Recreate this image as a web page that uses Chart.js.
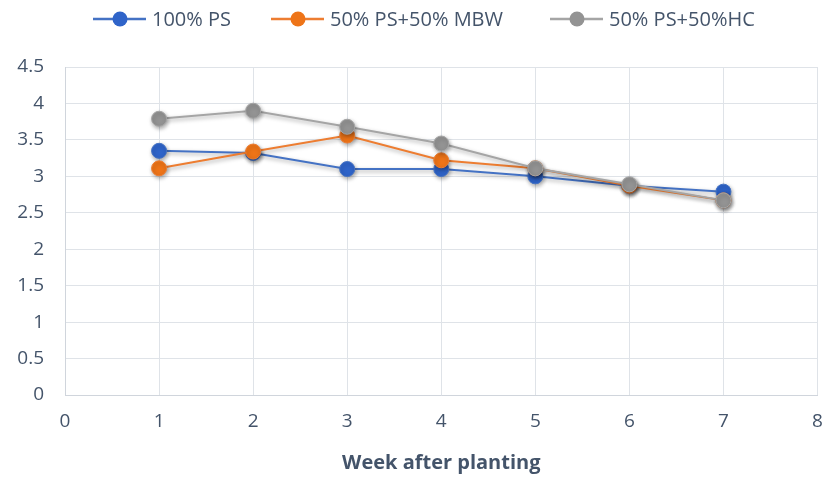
<!DOCTYPE html>
<html>
<head>
<meta charset="utf-8">
<script src="https://cdn.jsdelivr.net/npm/chart.js@4.4.1/dist/chart.umd.min.js"></script>
<style>
  html, body { margin: 0; padding: 0; background: #ffffff; }
  #wrap { width: 826px; height: 479px; }
</style>
</head>
<body>
<div id="wrap"><canvas id="chart" width="826" height="479"></canvas></div>
<script>
// Weeks after planting
const weeks = [1, 2, 3, 4, 5, 6, 7];
// Series values per week
const ps100 = [3.35, 3.32, 3.10, 3.10, 3.00, 2.87, 2.79];
const psMbw = [3.11, 3.34, 3.56, 3.22, 3.11, 2.87, 2.67];
const psHc  = [3.79, 3.90, 3.68, 3.45, 3.11, 2.89, 2.67];
const seriesNames = ['100% PS', '50% PS+50% MBW', '50% PS+50%HC'];
const xTitle = 'Week after planting';

const FONT = "'Open Sans', 'Liberation Sans', sans-serif";
const TEXT = '#44546a';

function pts(vals) { return weeks.map((w, i) => ({ x: w, y: vals[i] })); }

function series(label, vals, line, fill, order) {
  return {
    label, data: pts(vals), order,
    borderColor: line, borderWidth: 2,
    pointBackgroundColor: fill, pointBorderColor: line, pointBorderWidth: 1,
    pointRadius: 7.5, pointHoverRadius: 7.5, tension: 0
  };
}

// Soft drop shadow under lines and markers
const shadowPlugin = {
  id: 'shadow',
  beforeDatasetDraw(chart) {
    const c = chart.ctx;
    c.save();
    c.shadowColor = 'rgba(0,0,0,0.35)';
    c.shadowBlur = 4;
    c.shadowOffsetX = 1;
    c.shadowOffsetY = 2;
  },
  afterDatasetDraw(chart) { chart.ctx.restore(); }
};

// Legend with a line-and-marker swatch per series
const lineLegend = {
  id: 'lineLegend',
  afterDraw(chart) {
    const c = chart.ctx;
    const starts = [93, 271, 550];
    const y = 19;
    c.save();
    c.font = '20px ' + FONT;
    c.textBaseline = 'middle';
    chart.data.datasets.forEach((ds, i) => {
      const x0 = starts[i];
      c.strokeStyle = ds.borderColor;
      c.lineWidth = 2.5;
      c.beginPath(); c.moveTo(x0, y); c.lineTo(x0 + 53, y); c.stroke();
      c.beginPath(); c.arc(x0 + 27, y, 7.5, 0, Math.PI * 2);
      c.fillStyle = ds.pointBackgroundColor; c.fill();
      c.fillStyle = TEXT;
      c.textAlign = 'left';
      c.fillText(ds.label, x0 + 59, y + 1);
    });
    c.restore();
  }
};

new Chart(document.getElementById('chart'), {
  type: 'line',
  data: {
    datasets: [
      series(seriesNames[0], ps100, '#4472c4', '#2f64c9', 2),
      series(seriesNames[1], psMbw, '#ed7d31', '#ee7418', 1),
      series(seriesNames[2], psHc,  '#a5a5a5', '#939393', 0)
    ]
  },
  options: {
    responsive: false,
    animation: false,
    layout: { padding: { left: 0, right: 7, top: 67, bottom: 0 } },
    plugins: { legend: { display: false }, tooltip: { enabled: false } },
    scales: {
      x: {
        type: 'linear', min: 0, max: 8,
        ticks: { stepSize: 1, color: TEXT, font: { size: 19, family: FONT }, padding: 1,
                 callback: v => String(v) },
        grid: { color: '#dfe3e8', lineWidth: 1, drawTicks: true, tickLength: 14, tickColor: 'rgba(0,0,0,0)' },
        border: { color: '#d0d5dc' },
        title: { display: true, text: xTitle, color: TEXT,
                 font: { size: 20, weight: 'bold', family: FONT }, padding: { top: 2, bottom: 4 } },
        afterFit(s) { s.height = 84; }
      },
      y: {
        min: 0, max: 4.5,
        ticks: { stepSize: 0.5, color: TEXT, font: { size: 19, family: FONT }, padding: 21,
                 callback: v => String(v) },
        grid: { color: '#dfe3e8', lineWidth: 1, drawTicks: false },
        border: { color: '#d0d5dc' },
        afterFit(s) { s.width = 65; }
      }
    }
  },
  plugins: [shadowPlugin, lineLegend]
});
</script>
</body>
</html>
